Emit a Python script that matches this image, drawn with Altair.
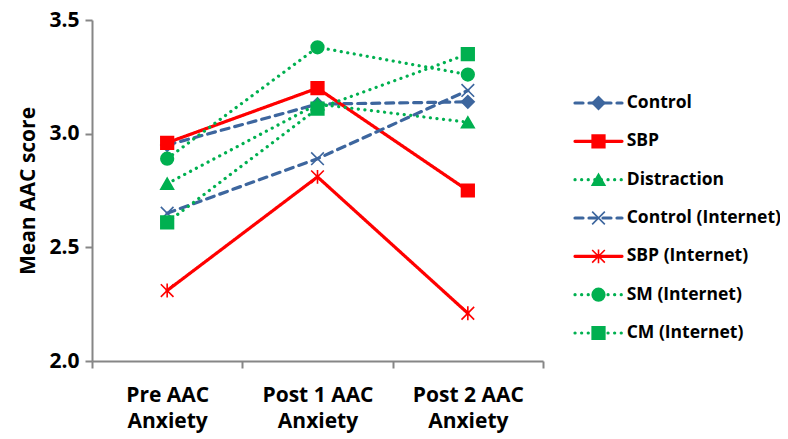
import altair as alt
import pandas as pd

# ---- data ----
timepoints = ["Pre AAC Anxiety", "Post 1 AAC Anxiety", "Post 2 AAC Anxiety"]
series = ["Control", "SBP", "Distraction", "Control (Internet)",
          "SBP (Internet)", "SM (Internet)", "CM (Internet)"]
values = {
    "Control":            [2.95, 3.13, 3.14],
    "SBP":                [2.96, 3.20, 2.75],
    "Distraction":        [2.78, 3.13, 3.05],
    "Control (Internet)": [2.65, 2.89, 3.19],
    "SBP (Internet)":     [2.31, 2.81, 2.21],
    "SM (Internet)":      [2.89, 3.38, 3.26],
    "CM (Internet)":      [2.61, 3.11, 3.35],
}

BLUE = "#3D669E"
RED = "#FF0000"
GREEN = "#00B050"
colors = [BLUE, RED, GREEN, BLUE, RED, GREEN, GREEN]
DASH = [8, 6]
DOT = [0.1, 6.5]
SOLID = [1, 0]
dashes = [DASH, SOLID, DOT, DASH, SOLID, DOT, DOT]
X_PATH = "M-1,-1L1,1M-1,1L1,-1"
AST_PATH = "M-1,-1L1,1M-1,1L1,-1M0,-1.1L0,1.1"
shapes = ["diamond", "square", "triangle-up", X_PATH, AST_PATH, "circle", "square"]

rows = []
for s in series:
    for t, v in zip(timepoints, values[s]):
        rows.append({"series": s, "time": t, "value": v})
df = pd.DataFrame(rows)

# legend table
leg_rows = []
for i, s in enumerate(series):
    leg_rows.append({"series": s, "row": i, "lx": 0.0})
    leg_rows.append({"series": s, "row": i, "lx": 1.0})
leg = pd.DataFrame(leg_rows)
leg_pts = pd.DataFrame({"series": series, "row": list(range(len(series))), "lx": 0.5})
leg_txt = pd.DataFrame({"series": series, "row": list(range(len(series))), "lx": 1.1})

FONT = "Open Sans"
col_scale = alt.Scale(domain=series, range=colors)
dash_scale = alt.Scale(domain=series, range=dashes)
shape_scale = alt.Scale(domain=series, range=shapes)

x_enc = alt.X("time:N", sort=timepoints, title=None,
              scale=alt.Scale(paddingInner=0, paddingOuter=0),
              axis=alt.Axis(labelAngle=0, tickBand="extent", domainColor="#868686",
                            domainWidth=2, tickColor="#868686", tickWidth=2, tickSize=7,
                            labelFont=FONT, labelFontSize=21, labelFontWeight="bold",
                            labelColor="black", labelPadding=16, labelLineHeight=26,
                            labelExpr="isValid(datum.value) ? [replace(datum.value, ' Anxiety', ''), 'Anxiety'] : ''"))
y_enc = alt.Y("value:Q", title="Mean AAC score",
              scale=alt.Scale(domain=[2.0, 3.5], nice=False, zero=False),
              axis=alt.Axis(values=[2.0, 2.5, 3.0, 3.5], format=".1f", grid=False,
                            domainColor="#868686", domainWidth=2, tickColor="#868686",
                            tickWidth=2, tickSize=7, labelFont=FONT, labelFontSize=21,
                            labelFontWeight="bold", labelColor="black", labelPadding=6,
                            titleFont=FONT, titleFontSize=21, titleFontWeight="bold",
                            titleColor="black", titlePadding=10))

base = alt.Chart(df)
lines = base.mark_line(strokeWidth=3.2, strokeCap="round").encode(
    x=x_enc, y=y_enc,
    color=alt.Color("series:N", scale=col_scale, legend=None),
    strokeDash=alt.StrokeDash("series:N", scale=dash_scale, legend=None),
    detail="series:N",
)
points = base.mark_point(filled=True, size=160, strokeWidth=1.6, opacity=1).encode(
    x=alt.X("time:N", sort=timepoints),
    y="value:Q",
    color=alt.Color("series:N", scale=col_scale, legend=None),
    stroke=alt.Stroke("series:N", scale=col_scale, legend=None),
    shape=alt.Shape("series:N", scale=shape_scale, legend=None),
)

# legend drawn with independent scales, placed right of the plot
lx_scale = alt.Scale(domain=[0, 1], range=[483, 530])
ly_scale = alt.Scale(domain=[0, 6], range=[83, 313])
leg_lines = alt.Chart(leg).mark_line(strokeWidth=3.2, strokeCap="round").encode(
    x=alt.X("lx:Q", scale=lx_scale, axis=None),
    y=alt.Y("row:Q", scale=ly_scale, axis=None),
    color=alt.Color("series:N", scale=col_scale, legend=None),
    strokeDash=alt.StrokeDash("series:N", scale=dash_scale, legend=None),
    detail="series:N",
)
leg_points = alt.Chart(leg_pts).mark_point(filled=True, size=160, strokeWidth=1.6, opacity=1).encode(
    x=alt.X("lx:Q", scale=lx_scale, axis=None),
    y=alt.Y("row:Q", scale=ly_scale, axis=None),
    color=alt.Color("series:N", scale=col_scale, legend=None),
    stroke=alt.Stroke("series:N", scale=col_scale, legend=None),
    shape=alt.Shape("series:N", scale=shape_scale, legend=None),
)
leg_text = alt.Chart(leg_txt).mark_text(align="left", baseline="middle", font=FONT,
                                        fontSize=17.5, fontWeight="bold", color="black").encode(
    x=alt.X("lx:Q", scale=lx_scale, axis=None),
    y=alt.Y("row:Q", scale=ly_scale, axis=None),
    text="series:N",
)

main = alt.layer(lines, points)
legend_layer = alt.layer(leg_lines, leg_points, leg_text)

chart = alt.layer(main, legend_layer).resolve_scale(
    x="independent", y="independent"
).properties(
    width=451, height=341,
    background="white",
    autosize=alt.AutoSizeParams(type="none"),
    padding={"left": 84, "top": 12, "right": 237, "bottom": 78},
).configure_view(strokeWidth=0, stroke="transparent")

chart.save("out.html", embed_options={"renderer": "svg", "actions": False})
